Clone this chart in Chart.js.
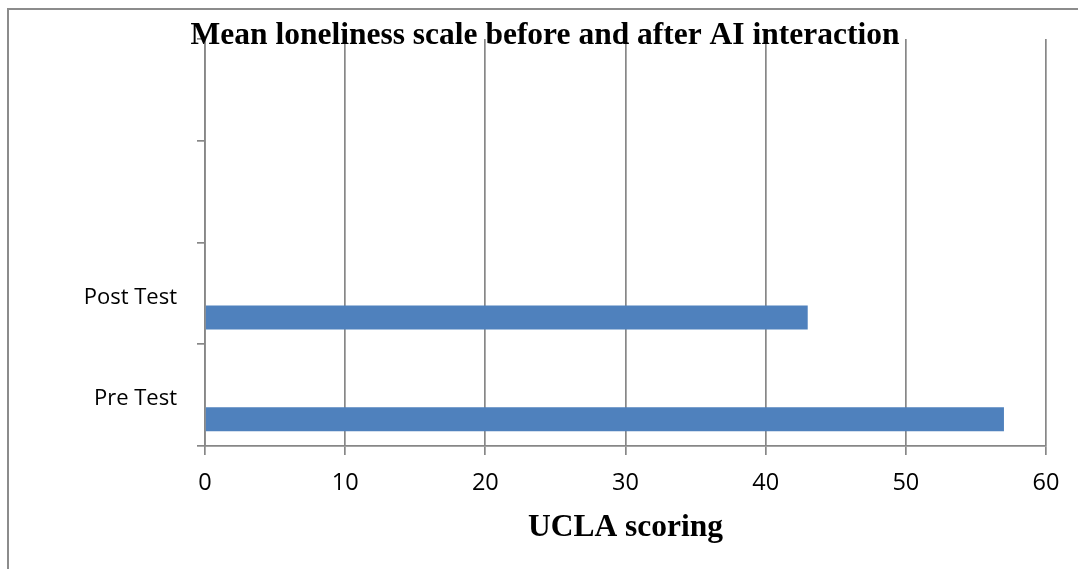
<!DOCTYPE html>
<html>
<head>
<meta charset="utf-8">
<script src="https://cdn.jsdelivr.net/npm/chart.js@4"></script>
<style>
  html, body { margin: 0; padding: 0; background: #fff; overflow: hidden; }
  #wrap { position: relative; width: 1078px; height: 569px; }
  #frame { position: absolute; left: 7px; top: 8px; width: 1100px; height: 600px;
           border: 2px solid #8c8c8c; box-sizing: border-box; pointer-events: none; }
  canvas { position: absolute; left: 0; top: 0; }
</style>
</head>
<body>
<div id="wrap">
  <canvas id="c" width="1078" height="569"></canvas>
  <div id="frame"></div>
</div>
<script>
// Categories listed bottom-to-top; the two upper slots are empty
const categories = ['Pre Test', 'Post Test', '', ''];
// Three series per category; only the third carries the means
const series1 = [null, null, null, null];
const series2 = [null, null, null, null];
const meanScores = [57, 43, null, null];
const xTicks = [0, 10, 20, 30, 40, 50, 60];

const chartTitle = 'Mean loneliness scale before and after AI interaction';
const xTitle = 'UCLA scoring';

const GRID = '#878787';
const BLUE = '#4F81BD';

const titlePlugin = {
  id: 'topTitle',
  afterDraw(chart) {
    const ctx = chart.ctx;
    ctx.save();
    ctx.font = 'bold 31.5px "Liberation Serif", "Times New Roman", serif';
    ctx.fillStyle = '#000';
    ctx.textAlign = 'center';
    ctx.textBaseline = 'alphabetic';
    ctx.fillText(chartTitle, 545, 44);
    ctx.restore();
  }
};

new Chart(document.getElementById('c'), {
  type: 'bar',
  data: {
    labels: categories,
    datasets: [
      { label: 'Series1', data: series1, backgroundColor: BLUE },
      { label: 'Series2', data: series2, backgroundColor: BLUE },
      { label: 'Mean', data: meanScores, backgroundColor: BLUE }
    ]
  },
  options: {
    indexAxis: 'y',
    responsive: false,
    animation: false,
    events: [],
    categoryPercentage: 0.708,
    barPercentage: 1,
    layout: { padding: { top: 39, right: 32, left: 0, bottom: 0 } },
    plugins: {
      legend: { display: false },
      tooltip: { enabled: false },
      title: { display: false }
    },
    scales: {
      x: {
        min: 0, max: 60,
        afterBuildTicks(scale) { scale.ticks = xTicks.map(v => ({ value: v })); },
        grid: { color: GRID, lineWidth: 1.7, drawTicks: true, tickLength: 9, tickColor: GRID },
        border: { color: GRID, width: 1.7 },
        ticks: { color: '#000', padding: 14, maxRotation: 0,
                 font: { family: '"Open Sans", sans-serif', size: 23.5 } },
        title: { display: true, text: xTitle, color: '#000', padding: { top: 4, bottom: 22 },
                 font: { family: '"Liberation Serif", "Times New Roman", serif', size: 31.5, weight: 'bold' } },
        afterFit(scale) { scale.height = 569 - 446; }
      },
      y: {
        reverse: true,
        grid: { display: true, drawOnChartArea: false, offset: true, tickLength: 8, color: GRID, lineWidth: 1.7 },
        border: { color: GRID, width: 1.7 },
        ticks: { color: '#000', padding: 20, labelOffset: 4,
                 font: { family: '"Open Sans", sans-serif', size: 22 } },
        afterFit(scale) { scale.width = 205; }
      }
    }
  },
  plugins: [titlePlugin]
});
</script>
</body>
</html>
